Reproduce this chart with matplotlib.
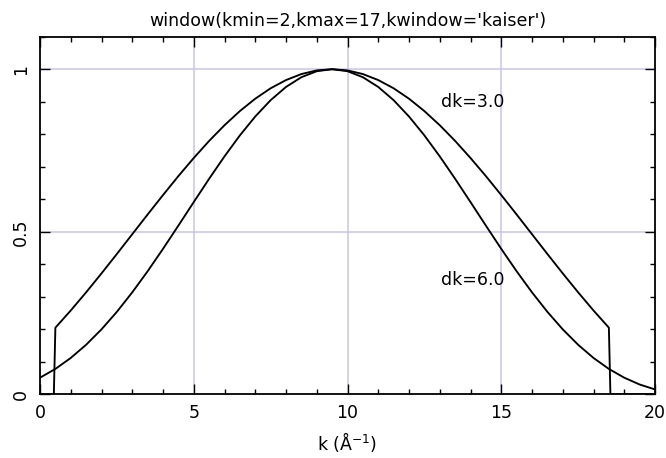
import matplotlib
matplotlib.use("Agg")
import matplotlib.pyplot as plt
from matplotlib.ticker import MultipleLocator

# k grid (Å^-1) and window values
k_dk3 = [0.0, 0.45, 0.5, 1.0, 1.5, 2.0, 2.5, 3.0, 3.5, 4.0, 4.5, 5.0, 5.5, 6.0,
         6.5, 7.0, 7.5, 8.0, 8.5, 9.0, 9.5, 10.0, 10.5, 11.0, 11.5, 12.0, 12.5,
         13.0, 13.5, 14.0, 14.5, 15.0, 15.5, 16.0, 16.5, 17.0, 17.5, 18.0, 18.5,
         18.55, 20.0]
win_dk3 = [0.0, 0.0, 0.2049, 0.2578, 0.3137, 0.3719, 0.4317, 0.4924, 0.5531,
           0.6129, 0.6712, 0.7269, 0.7794, 0.8277, 0.8712, 0.9093, 0.9413,
           0.9666, 0.9851, 0.9963, 1.0, 0.9963, 0.9851, 0.9666, 0.9413, 0.9093,
           0.8712, 0.8277, 0.7794, 0.7269, 0.6712, 0.6129, 0.5531, 0.4924,
           0.4317, 0.3719, 0.3137, 0.2578, 0.2049, 0.0, 0.0]

k_dk6 = [0.0, 0.5, 1.0, 1.5, 2.0, 2.5, 3.0, 3.5, 4.0, 4.5, 5.0, 5.5, 6.0, 6.5,
         7.0, 7.5, 8.0, 8.5, 9.0, 9.5, 10.0, 10.5, 11.0, 11.5, 12.0, 12.5, 13.0,
         13.5, 14.0, 14.5, 15.0, 15.5, 16.0, 16.5, 17.0, 17.5, 18.0, 18.5, 19.0,
         19.5, 20.0]
win_dk6 = [0.0511, 0.0781, 0.1118, 0.1524, 0.1998, 0.2537, 0.3136, 0.3785,
           0.4474, 0.5189, 0.5913, 0.6629, 0.7319, 0.7964, 0.8545, 0.9047,
           0.9454, 0.9754, 0.9938, 1.0, 0.9938, 0.9754, 0.9454, 0.9047, 0.8545,
           0.7964, 0.7319, 0.6629, 0.5913, 0.5189, 0.4474, 0.3785, 0.3136,
           0.2537, 0.1998, 0.1524, 0.1118, 0.0781, 0.0511, 0.0302, 0.0149]

labels = ["dk=3.0", "dk=6.0"]
label_pos = [(13.05, 0.90), (13.05, 0.351)]
title = "window(kmin=2,kmax=17,kwindow='kaiser')"
xlabel = "k (Å$^{-1}$)"

plt.rcParams['font.family'] = ['DejaVu Sans']
plt.rcParams['mathtext.default'] = 'regular'
fig = plt.figure(figsize=(6.66, 4.58), dpi=100)
ax = fig.add_axes([40/666, 1 - 394.3/458, (655 - 40)/666, (394.3 - 36.7)/458])

grid_c = '#cdc3e6'
for xv in [5, 10, 15]:
    ax.axvline(xv, color=grid_c, lw=1.1, zorder=0)
for yv in [0.5, 1.0]:
    ax.axhline(yv, color=grid_c, lw=1.1, zorder=0)

ax.plot(k_dk3, win_dk3, color='black', lw=1.35, zorder=3)
ax.plot(k_dk6, win_dk6, color='black', lw=1.35, zorder=3)

for lab, (lx, ly) in zip(labels, label_pos):
    ax.text(lx, ly, lab, fontsize=12.5, ha='left', va='center', color='black')

ax.set_xlim(0, 20)
ax.set_ylim(0, 1.1)
ax.xaxis.set_major_locator(MultipleLocator(5))
ax.xaxis.set_minor_locator(MultipleLocator(1))
ax.yaxis.set_major_locator(MultipleLocator(0.5))
ax.yaxis.set_minor_locator(MultipleLocator(0.1))
ax.set_xticks([0, 5, 10, 15, 20])
ax.set_xticklabels(['0', '5', '10', '15', '20'])
ax.set_yticks([0, 0.5, 1.0])
ax.set_yticklabels(['0', '0.5', '1'], rotation=90, va='center')
ax.tick_params(which='both', direction='in', top=True, right=True, colors='black')
ax.tick_params(which='major', length=7.5, width=1.0, labelsize=12.5, pad=7)
ax.tick_params(which='minor', length=3.8, width=1.0)
for sp in ax.spines.values():
    sp.set_linewidth(1.3)

ax.set_title(title, fontsize=12.5, pad=8)
ax.set_xlabel(xlabel, fontsize=12.5, labelpad=6)

fig.savefig('out.png', dpi=100)
